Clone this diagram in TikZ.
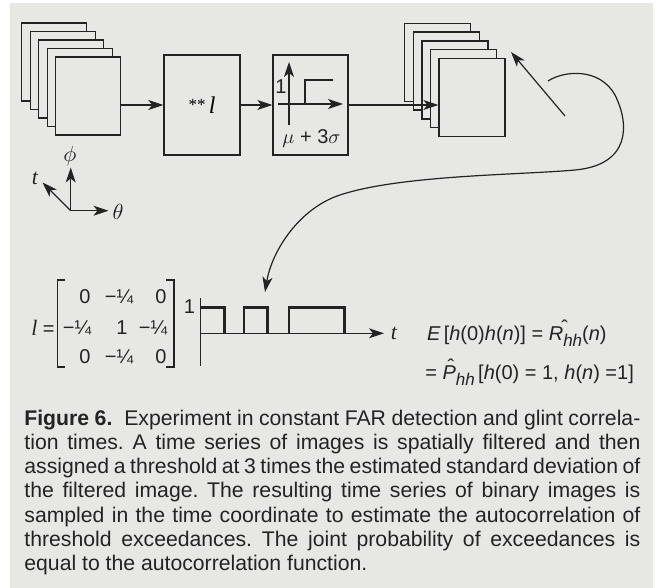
\documentclass[tikz,border=0pt]{standalone}
\usepackage{fontspec}
\setmainfont{Liberation Sans}
\newfontfamily\tms{Liberation Serif}
\usetikzlibrary{arrows.meta}
\definecolor{bg}{RGB}{231,231,228}
\definecolor{ink}{RGB}{35,35,35}
\newcommand\hatted[2]{{\itshape #2}\rlap{\kern#1\raisebox{0.3em}{\char"02C6}}}
\newcommand\subhh{\raisebox{-0.3em}{\fontsize{8.5}{8.5}\selectfont\itshape hh}}
\newcommand\capline[1]{\makebox[\linewidth][s]{#1}}
\begin{document}
\begin{tikzpicture}[x=0.5pt,y=-0.5pt,
  frame/.style={draw=ink, fill=bg, line width=0.7pt, minimum width=32.5pt, minimum height=39pt, inner sep=0pt, anchor=north west},
  box/.style={draw=ink, line width=0.7pt, minimum width=38pt, minimum height=50pt, inner sep=0pt},
  arr/.style={draw=ink, line width=0.6pt, -{Stealth[length=7.5pt,width=5pt,inset=2pt]}},
  thinline/.style={draw=ink, line width=0.55pt},
  sig/.style={draw=ink, line width=1.4pt, line join=miter},
  lbl/.style={inner sep=0pt, text=ink, font=\fontsize{10}{12}\selectfont},
  ]
\useasboundingbox (0,0) rectangle (658,588);
\fill[white] (0,0) rectangle (658,588);
\fill[bg] (10,3) rectangle (653,588);

% input stack
\foreach \k in {0,...,4} \node[frame] (in\k) at ({21+8.5*\k},{22.5+8.5*\k}) {};
% output stack
\foreach \k in {0,...,4} \node[frame, minimum width=33pt] (out\k) at ({404+8.6*\k},{22.7+8.75*\k}) {};

% filter and threshold boxes
\node[box] (filt) at (202,105) {\tms\raisebox{0.15em}{\fontsize{8.5}{10}\selectfont**}\,{\fontsize{12}{14}\selectfont\itshape l}};
\node[box, minimum width=37.5pt] (thr) at (310.5,105) {};

\draw[arr] (in4.east |- filt.west) -- (filt.west);
\draw[arr] (filt.east) -- (thr.west);
\draw[arr] (thr.east) -- (thr.east -| out4.west);

% threshold plot
\coordinate (ta0) at (289,125); \coordinate (ta1) at (289,62);
\coordinate (tb0) at (278,104); \coordinate (tb1) at (343,104);
\draw[arr] (ta0) -- (ta1);
\draw[arr] (tb0) -- (tb1);
\draw[sig] (284,104) -- (305,104) -- (305,80) -- (333,80);
\node[lbl] (tone) at (281,87) {1};
\node[lbl] (mu) at (311.5,138) {$\mu$ + 3$\sigma$};

% axes
\coordinate (o) at (70.7,210.7);
\coordinate (aphi) at (70.7,167.5);
\coordinate (ath) at (108.5,210.7);
\coordinate (at) at (42.5,182.5);
\draw[arr] (o) -- (aphi);
\draw[arr] (o) -- (ath);
\draw[arr] (o) -- (at);
\node[lbl, font=\fontsize{11}{13}\selectfont] (lphi) at (70,156) {$\phi$};
\node[lbl, font=\fontsize{11}{13}\selectfont] (lth) at (118,212) {$\theta$};
\node[lbl, font=\fontsize{11}{13}\selectfont\tms\itshape] (lt) at (35,178) {t};

% feedback arrows
\coordinate (s0) at (565,116); \coordinate (s1) at (511,52);
\draw[arr] (s0) -- (s1);
\coordinate (c0) at (548,81); \coordinate (c4) at (265,292);
\draw[arr] (c0) .. controls (565,70) and (600,68) .. (615,95)
  .. controls (630,125) and (630,165) .. (575,170)
  .. controls (520,175) and (400,175) .. (340,195)
  .. controls (300,208) and (272,250) .. (c4);

% matrix
\node[lbl] (leq) at (43,328) {{\fontsize{11}{13}\selectfont\tms\itshape l} =};
\draw[thinline] (65,280) -- (57.3,280) -- (57.3,367) -- (65,367);
\draw[thinline] (166,280) -- (174,280) -- (174,367) -- (166,367);
\node[lbl] (m11) at (85,297) {0};
\node[lbl] (m12) at (119,297) {−¼};
\node[lbl] (m13) at (161,297) {0};
\node[lbl] (m21) at (77,328) {−¼};
\node[lbl] (m22) at (122,328) {1};
\node[lbl] (m23) at (153,328) {−¼};
\node[lbl] (m31) at (85,357) {0};
\node[lbl] (m32) at (119,357) {−¼};
\node[lbl] (m33) at (161,357) {0};

% pulse train
\coordinate (pv0) at (200.7,298); \coordinate (pv1) at (200.7,366);
\draw[thinline] (pv0) -- (pv1);
\coordinate (ph0) at (200.7,333.3); \coordinate (ph1) at (384,333.3);
\draw[arr] (ph0) -- (ph1);
\draw[sig] (200.7,307.3) -- (224.3,307.3) -- (224.3,333.3);
\draw[sig] (244,333.3) -- (244,307.3) -- (267.3,307.3) -- (267.3,333.3);
\draw[sig] (289,333.3) -- (289,307.3) -- (344.3,307.3) -- (344.3,333.3);
\node[lbl] (pone) at (189.5,307) {1};
\node[lbl, font=\fontsize{11}{13}\selectfont\tms\itshape] (pt) at (394,333) {t};

% equations
\node[lbl, anchor=west] (eq1) at (426.7,333) {{\itshape E}\,[{\itshape h}(0){\itshape h}({\itshape n})] = \hatted{-0.1em}{R}\subhh({\itshape n})};
\node[lbl, anchor=west] (eq2) at (425,372) {= \hatted{-0.42em}{P}\subhh\,[{\itshape h}(0) = 1, {\itshape h}({\itshape n}) =1]};

% caption
\node[anchor=base west, inner sep=0pt, text=ink] (cap) at (24,425) {\parbox[t]{308pt}{\fontsize{10.6}{12.15}\selectfont\frenchspacing
\capline{\textbf{Figure 6.}\hspace{0.3em} Experiment in constant FAR detection and glint correla-}\\
\capline{tion times. A time series of images is spatially filtered and then}\\
\capline{assigned a threshold at 3 times the estimated standard deviation of}\\
\capline{the filtered image. The resulting time series of binary images is}\\
\capline{sampled in the time coordinate to estimate the autocorrelation of}\\
\capline{threshold exceedances. The joint probability of exceedances is}\\
equal to the autocorrelation function.}};
\end{tikzpicture}
\end{document}
